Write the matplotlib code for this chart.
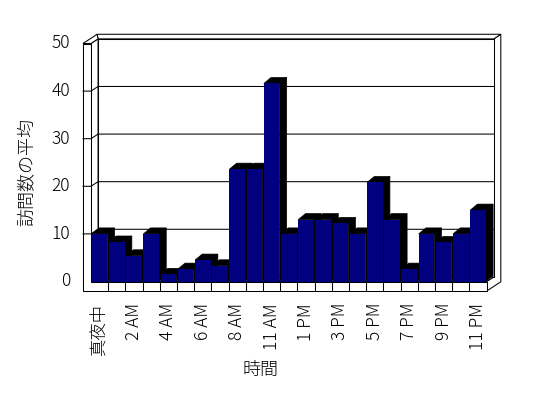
import numpy as np
import matplotlib
matplotlib.use('Agg')
import matplotlib.pyplot as plt
from matplotlib.patches import Polygon, Rectangle

plt.rcParams['font.family'] = ['Noto Sans CJK JP', 'DejaVu Sans']
plt.rcParams['font.weight'] = 'light'

# data
hours = ['真夜中', '1 AM', '2 AM', '3 AM', '4 AM', '5 AM', '6 AM', '7 AM', '8 AM', '9 AM',
         '11 AM', '12 PM', '1 PM', '2 PM', '3 PM', '4 PM', '5 PM', '6 PM', '7 PM', '8 PM',
         '9 PM', '10 PM', '11 PM']
visits = [10, 8.3, 5.4, 10, 1.5, 2.6, 4.5, 3.3, 23.6, 23.6, 41.6, 10,
          13, 13, 12.2, 10, 20.8, 13, 2.6, 10, 8.2, 10, 15]
yticks = [0, 10, 20, 30, 40, 50]

n = len(hours)
ymax = 50

# 3d look (data units)
wdx, wdy = 0.41, 0.97      # wall depth
bdx, bdy = 0.42, 1.26      # bar depth
wall_t = 0.465             # left wall thickness
floor_t = 2.0              # floor thickness
bw = 0.907
x0, x1 = -0.5, n - 0.5
xl = x0 - wall_t

fig = plt.figure(figsize=(5.48, 3.98), dpi=100)
ax = fig.add_axes([91 / 548, 1 - 281.5 / 398, 395.7 / 548, 238 / 398])
ax.set_xlim(x0, x1)
ax.set_ylim(0, ymax)
ax.axis('off')

lw = 0.75
kw = dict(facecolor='white', edgecolor='black', linewidth=lw, clip_on=False, joinstyle='miter')

# right side of back wall + floor
ax.add_patch(Polygon([(x1, -floor_t), (x1, 0), (x1 + wdx, wdy), (x1 + wdx, ymax + wdy),
                      (x1 + 2 * wdx, ymax + 2 * wdy), (x1 + 2 * wdx, -floor_t + 2 * wdy)], zorder=1, **kw))
# back wall top
ax.add_patch(Polygon([(x0 + wdx, ymax + wdy), (x1 + wdx, ymax + wdy),
                      (x1 + 2 * wdx, ymax + 2 * wdy), (xl + 2 * wdx, ymax + 2 * wdy)], zorder=1, **kw))
# back wall front face
ax.add_patch(Polygon([(x0 + wdx, wdy), (x1 + wdx, wdy), (x1 + wdx, ymax + wdy), (x0 + wdx, ymax + wdy)],
                     zorder=1, **kw))
# floor top
ax.add_patch(Polygon([(x0, 0), (x1, 0), (x1 + wdx, wdy), (x0 + wdx, wdy)], zorder=1, **kw))
# left wall inner face
ax.add_patch(Polygon([(x0, 0), (x0, ymax), (x0 + wdx, ymax + wdy), (x0 + wdx, wdy)], zorder=1, **kw))
# left wall top
ax.add_patch(Polygon([(xl, ymax), (x0, ymax), (x0 + wdx, ymax + wdy), (xl + 2 * wdx, ymax + 2 * wdy)],
                     zorder=1, **kw))
# left wall front + floor front
ax.add_patch(Polygon([(xl, -floor_t), (x1, -floor_t), (x1, 0), (x0, 0), (x0, ymax), (xl, ymax)],
                     zorder=1, **kw))

# gridlines and ticks
for v in yticks[1:-1]:
    ax.plot([xl, x0, x0 + wdx, x1 + wdx], [v, v, v + wdy, v + wdy], color='black', lw=lw,
            clip_on=False, zorder=2, solid_joinstyle='miter')
for v in yticks:
    ax.text(xl - 0.75, v, str(v), ha='right', va='center', fontsize=12.5)

# category separators in floor
for i in range(n - 1):
    ax.plot([i + 0.5, i + 0.5], [-floor_t, 0], color='black', lw=lw, clip_on=False, zorder=2)

# bars
for i, v in enumerate(visits):
    z = 3 + i * 0.01
    l, r = i - bw / 2, i + bw / 2
    ax.add_patch(Polygon([(r, 0), (r + bdx, bdy), (r + bdx, v + bdy), (r, v)],
                         facecolor='black', edgecolor='black', lw=0.5, zorder=z, clip_on=False))
    ax.add_patch(Polygon([(l, v), (r, v), (r + bdx, v + bdy), (l + bdx, v + bdy)],
                         facecolor='black', edgecolor='black', lw=0.5, zorder=z, clip_on=False))
    ax.add_patch(Rectangle((l, 0), bw, v, facecolor='#000080', edgecolor='none', zorder=z + 0.005,
                           clip_on=False))

for i in range(0, n, 2):
    ax.text(i, -4.5, hours[i], rotation=90, ha='center', va='top', fontsize=12.5)

fig.text(27 / 548, 1 - 172 / 398, '訪問数の平均', rotation=90, ha='center', va='center', fontsize=13)
fig.text(260 / 548, 1 - 370 / 398, '時間', ha='center', va='center', fontsize=13)

fig.savefig('out.png', dpi=100)
